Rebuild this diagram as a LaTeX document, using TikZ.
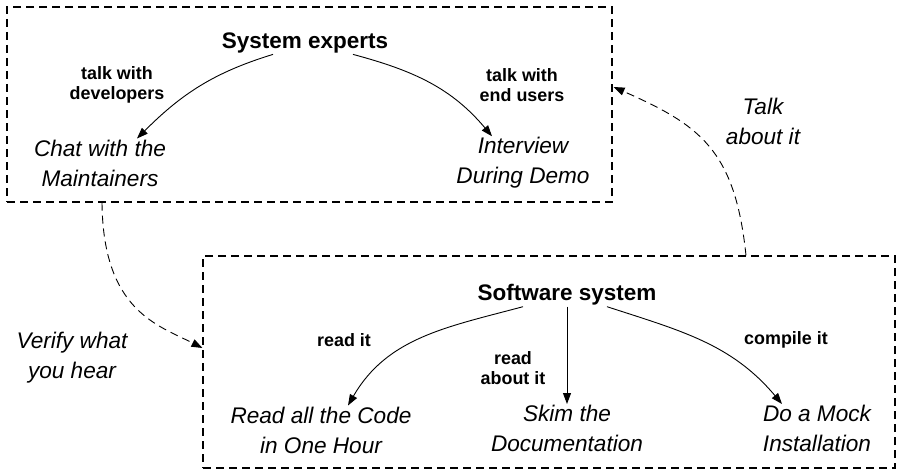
\documentclass[tikz,border=0pt]{standalone}
\usepackage{fontspec}
\setmainfont{Liberation Sans}
\usetikzlibrary{arrows.meta}
\tikzset{
  box/.style={draw, dash pattern=on 8pt off 5pt, line width=1.1pt, inner sep=0pt},
  head/.style={font=\fontsize{22.5}{27}\selectfont\bfseries, inner sep=1pt},
  act/.style={font=\fontsize{22.6}{30}\selectfont\itshape, align=center, inner sep=1pt},
  lab/.style={font=\fontsize{17.9}{20}\selectfont\bfseries, align=center, inner sep=1pt},
  arr/.style={line width=0.9pt, -{Triangle[length=11pt,width=8pt]}},
  darr/.style={line width=0.9pt, dash pattern=on 8pt off 5pt, -{Triangle[length=11pt,width=8pt]}},
}
\begin{document}
\begin{tikzpicture}[x=1pt,y=1pt]
\useasboundingbox (0,0) rectangle (897,-471);
% boxes
\node[box, minimum width=605, minimum height=195] (tb) at (309.5,-104.5) {};
\node[box, minimum width=692, minimum height=212] (bb) at (549,-362) {};
% top box content
\node[head] (se) at (305,-43) {System experts};
\node[act] (cm) at (100,-163) {Chat with the\\Maintainers};
\node[act] (idd) at (523,-163) {Interview\\During Demo};
\node[lab] (l1) at (117,-85) {talk with\\developers};
\node[lab] (l2) at (522,-85) {talk with\\end users};
\draw[arr] ([xshift=-32pt]se.south) to[out=197,in=45] ([xshift=37pt]cm.north);
\draw[arr] ([xshift=48pt]se.south) to[out=-15,in=130] ([xshift=-31pt]idd.north);
% bottom box content
\node[head] (ss) at (567,-295) {Software system};
\node[act] (rc) at (321,-430) {Read all the Code\\in One Hour};
\node[act] (sd) at (567,-428.5) {Skim the\\Documentation};
\node[act] (dm) at (817,-428.5) {Do a Mock\\Installation};
\node[lab] (l3) at (344,-340) {read it};
\node[lab] (l4) at (513,-368) {read\\about it};
\node[lab] (l5) at (786,-340) {compile it};
\draw[arr] ([xshift=-44pt]ss.south) to[out=195,in=60] ([xshift=27pt]rc.north);
\draw[arr] (ss.south) -- (sd.north);
\draw[arr] ([xshift=40pt]ss.south) to[out=-18,in=130] ([xshift=-35pt]dm.north);
% cross connectors
\node[act] (tai) at (763,-121.5) {Talk\\about it};
\node[act] (vwh) at (72,-358) {Verify what\\you hear};
\draw[darr] ([xshift=197pt]bb.north) .. controls +(-11,106) and +(86,-38) .. ([xshift=1pt,yshift=17.5pt]tb.east);
\draw[darr] ([xshift=-207.5pt]tb.south) .. controls +(1,-108) and +(-45,23) .. ([yshift=14pt]bb.west);
\end{tikzpicture}
\end{document}
